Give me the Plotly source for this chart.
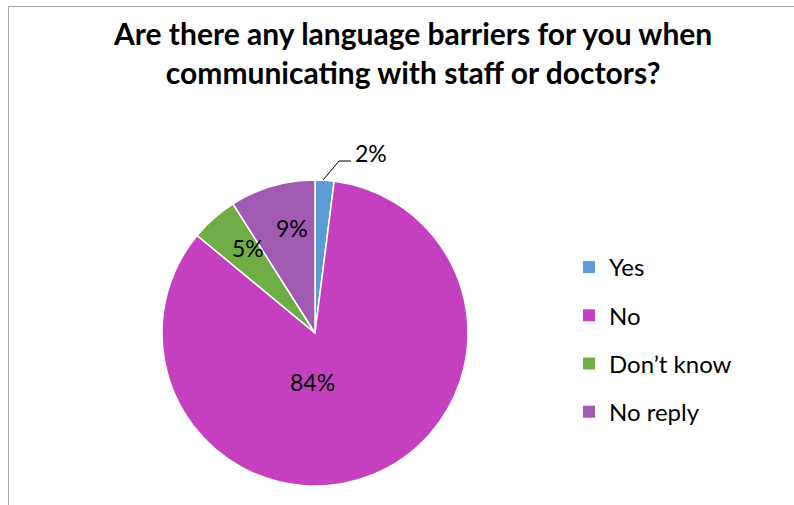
import plotly.graph_objects as go

categories = ["Yes", "No", "Don\u2019t know", "No reply"]
values = [2, 84, 5, 9]
colors = ["#5B9BD5", "#C540BF", "#70AD47", "#A05AB2"]
title_text = "Are there any language barriers for you when<br>communicating with staff or doctors?"

W, H = 794, 505
def px(x):
    return x / W
def py(y):
    return 1 - y / H

FONT = "Lato"

fig = go.Figure()
fig.add_trace(go.Pie(
    labels=categories, values=values, sort=False, direction="clockwise", rotation=0,
    marker=dict(colors=colors, line=dict(color="white", width=1.5)),
    textinfo="none", hoverinfo="label+percent", showlegend=False,
    domain=dict(x=[px(162), px(468)], y=[py(486), py(180)]),
))

# legend entries
for cat, col in zip(categories, colors):
    fig.add_trace(go.Scatter(
        x=[None], y=[None], mode="markers", name=cat, legendgroup=cat,
        marker=dict(symbol="square", size=12, color=col),
    ))

# percentage labels
label_pos = [(371, 153), (312, 382), (248, 248), (292, 228)]
annotations = []
for v, (x, y) in zip(values, label_pos):
    annotations.append(dict(
        x=px(x), y=py(y), xref="paper", yref="paper", text=f"{v}%",
        showarrow=False, font=dict(family=FONT, size=23, color="#000000"),
        xanchor="center", yanchor="middle",
    ))
annotations.append(dict(
    x=px(412), y=py(53), xref="paper", yref="paper", text=title_text,
    showarrow=False, xanchor="center", yanchor="middle", align="center",
    font=dict(family=FONT, size=30, color="#000000", weight="bold"),
))

shapes = [
    dict(type="rect", xref="paper", yref="paper",
         x0=px(8.5), x1=1.05, y0=-0.05, y1=py(6.5),
         line=dict(color="#A6A6A6", width=1), fillcolor="rgba(0,0,0,0)", layer="below"),
    dict(type="path", xref="paper", yref="paper",
         path=f"M {px(323)} {py(180)} L {px(339)} {py(161)} L {px(351)} {py(161)}",
         line=dict(color="#000000", width=1)),
]

fig.update_layout(
    width=W, height=H,
    margin=dict(l=0, r=0, t=0, b=0),
    paper_bgcolor="white", plot_bgcolor="white",
    xaxis=dict(visible=False), yaxis=dict(visible=False),
    showlegend=True,
    legend=dict(x=px(569), y=py(245), xanchor="left", yanchor="top",
                font=dict(family=FONT, size=24, color="#000000"),
                tracegroupgap=14, itemsizing="trace", bgcolor="rgba(0,0,0,0)"),
    annotations=annotations, shapes=shapes,
)

fig.write_html("out.html", config={"displayModeBar": False},
               post_script="document.body.style.margin='0';document.body.style.overflow='hidden';")
